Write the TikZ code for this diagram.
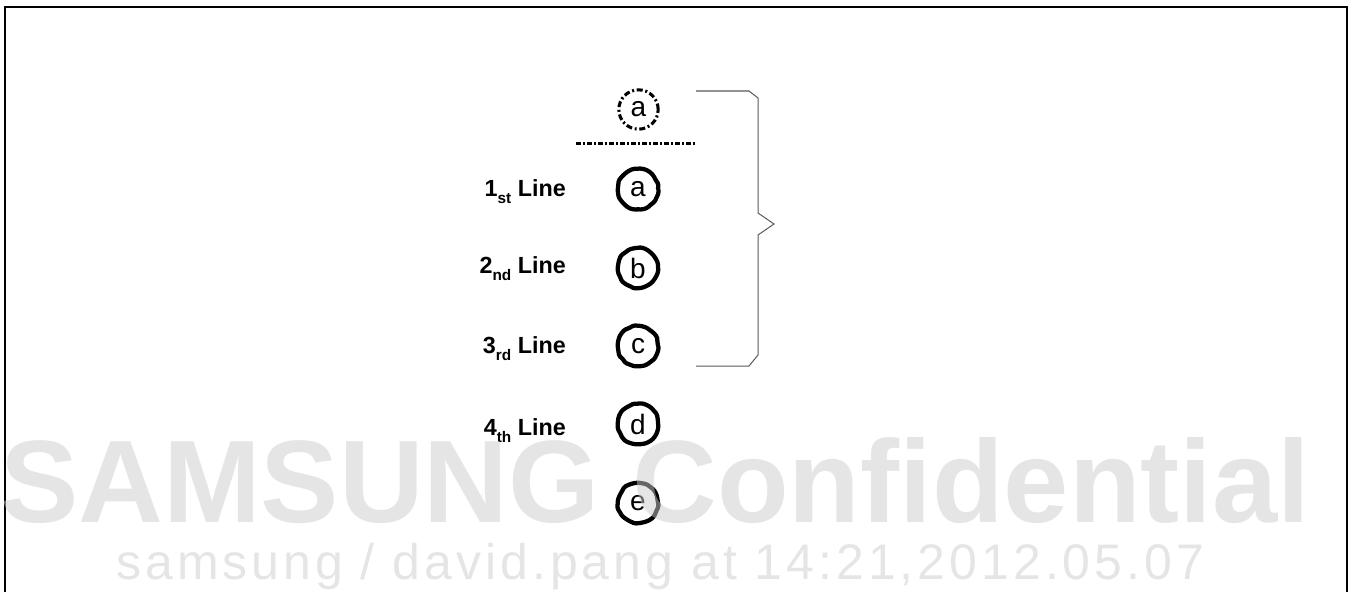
\documentclass[tikz,border=0pt]{standalone}
\usepackage{fontspec}
\usetikzlibrary{decorations.pathmorphing}
\setmainfont{Liberation Sans}
\newfontfamily\wmfont[LetterSpace=8]{Liberation Sans}
\newcommand\ordlabel[2]{#1\raisebox{-5.25pt}{\fontsize{11.5}{11.5}\selectfont #2} Line}
\begin{document}
\begin{tikzpicture}[x=0.75pt,y=-0.75pt,
    ringnode/.style={circle,draw,line width=3.2pt,inner sep=0pt,minimum size=30pt,
        decorate,decoration={random steps,segment length=3.5pt,amplitude=0.5pt},rounded corners=1pt,
        font=\fontsize{21}{24}\selectfont},
    ghostnode/.style={circle,draw,line width=2.3pt,dash pattern=on 4.5pt off 2pt on 1.5pt off 2pt,inner sep=0pt,minimum size=29.5pt,font=\fontsize{21}{24}\selectfont},
    linelabel/.style={anchor=base east,inner sep=0pt,font=\bfseries\fontsize{17.5}{20}\selectfont},
    watermark/.style={inner sep=0pt,anchor=base west,text=black!20,opacity=0.5}]
    \useasboundingbox (0,0) rectangle (1352,592);
    \draw[line width=1.5pt] (5,600) -- (5,7) -- (1347,7) -- (1347,600);
    % candidate line above the separator
    \node[ghostnode] (ghost) at (638.5,109.5) {a};
    \draw[line width=2.25pt,dash pattern=on 3.75pt off 1.5pt on 1.5pt off 1.5pt] (576,143) -- (697,143);
    \foreach \ch/\y [count=\i] in {a/189,b/268,c/346,d/424,e/503}
        \node[ringnode] (ring\i) at (638,\y) {\ch};
    \node[linelabel] (lab1) at (566,196) {\ordlabel{1}{st}};
    \node[linelabel] (lab2) at (566,273) {\ordlabel{2}{nd}};
    \node[linelabel] (lab3) at (566,353) {\ordlabel{3}{rd}};
    \node[linelabel] (lab4) at (566,435) {\ordlabel{4}{th}};
    % brace over the first three lines
    \draw[black!65,line width=0.75pt] (696,91) -- (749,91) -- (758,98) -- (758,213) -- (774,224)
        -- (758,235) -- (758,355) -- (749,366) -- (696,366);
    % watermark
    \node[watermark,font=\bfseries\fontsize{88}{88}\selectfont] (wmbig) at (0,522) {SAMSUNG Confidential};
    \node[watermark,font=\wmfont\fontsize{37.5}{40}\selectfont] (wmsmall) at (116,579) {samsung / david.pang at 14:21,2012.05.07};
\end{tikzpicture}
\end{document}
